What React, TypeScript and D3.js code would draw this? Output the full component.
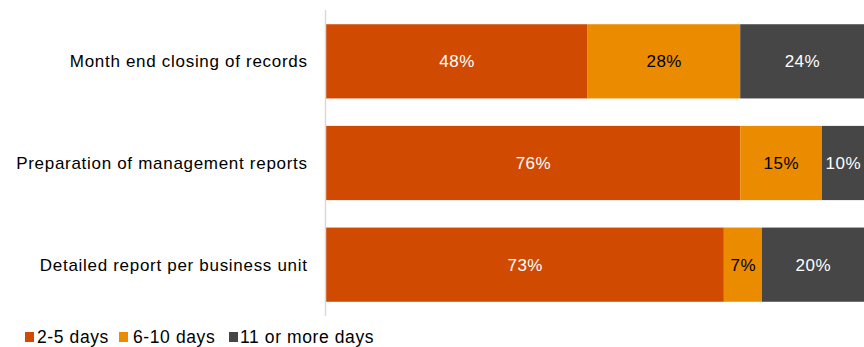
import React from "react";
import * as d3 from "d3";

const categories = [
  "Month end closing of records",
  "Preparation of management reports",
  "Detailed report per business unit",
];
const seriesNames = ["2-5 days", "6-10 days", "11 or more days"];
const days2to5 = [48, 76, 73];
const days6to10 = [28, 15, 7];
const days11plus = [24, 10, 20];
const colors = ["#D04A02", "#EB8C00", "#464646"];
const labelColors = ["#FFFFFF", "#000000", "#FFFFFF"];

const W = 864;
const H = 347;
const FONT = "'Liberation Sans', Arial, sans-serif";

export default function App() {
  const x = d3.scaleLinear().domain([0, 100]).range([326, 871]);
  const y = d3.scaleBand().domain(categories).range([10, 316]).paddingInner(0.27).paddingOuter(0.14);
  const values = [days2to5, days6to10, days11plus];
  const rows = categories.map((c, i) => ({ c, v: values.map((s) => s[i]) }));
  const stack = d3.stack<any>().keys([0, 1, 2] as any).value((d: any, k: any) => d.v[k]);
  const stacked = stack(rows as any);

  return (
    <svg width={W} height={H} style={{ position: "absolute", left: 0, top: 0 }} fontFamily={FONT}>
      <defs>
        <clipPath id="clip">
          <rect x={0} y={0} width={W} height={H} />
        </clipPath>
      </defs>
      <g clipPath="url(#clip)">
        {stacked.map((layer, si) =>
          layer.map((d: any, i) => {
            const x0 = x(d[0]);
            const x1 = x(d[1]);
            const yy = y(categories[i])!;
            const right = Math.min(x1, W);
            return (
              <g key={`${si}-${i}`}>
                <rect x={x0} y={yy} width={x1 - x0} height={y.bandwidth()} fill={colors[si]} />
                <text
                  x={(x0 + right) / 2 + 0.3}
                  y={yy + y.bandwidth() / 2}
                  dy="0.35em"
                  textAnchor="middle"
                  fontSize={17}
                  letterSpacing={0.5}
                  fill={labelColors[si]}
                >
                  {values[si][i]}%
                </text>
              </g>
            );
          })
        )}
      </g>
      <line x1={325.5} x2={325.5} y1={10} y2={316} stroke="#D9D9D9" strokeWidth={1.5} />
      {categories.map((c) => (
        <text
          key={c}
          x={307.7}
          y={y(c)! + y.bandwidth() / 2}
          dy="0.35em"
          textAnchor="end"
          fontSize={17}
          letterSpacing={0.7}
          fill="#000"
        >
          {c}
        </text>
      ))}
      {(() => {
        const sq = [25, 119, 229];
        const tx = [37, 133, 240];
        return seriesNames.map((n, i) => (
          <g key={n}>
            <rect x={sq[i]} y={332} width={9} height={10} fill={colors[i]} />
            <text x={tx[i]} y={342.5} fontSize={17.5} letterSpacing={0.6} fill="#000">
              {n}
            </text>
          </g>
        ));
      })()}
    </svg>
  );
}
